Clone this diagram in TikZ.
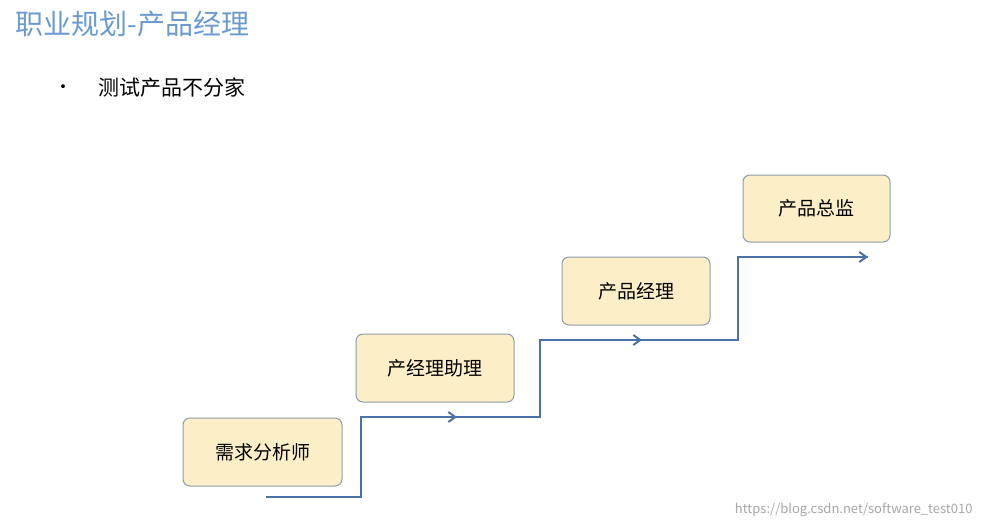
\documentclass[tikz,border=0pt]{standalone}
\usepackage{fontspec}
\setmainfont{Noto Sans CJK SC}
\usetikzlibrary{arrows.meta}
\definecolor{boxfill}{HTML}{FCEFC7}
\definecolor{boxline}{HTML}{8C9BAE}
\definecolor{stair}{HTML}{4A72A8}
\definecolor{titleblue}{HTML}{6A9AD0}
\tikzset{
 stage/.style={draw=boxline,fill=boxfill,rounded corners=7pt,line width=1pt,font=\fontsize{19}{22}\selectfont,inner sep=0pt},
 stair/.style={draw=stair,line width=2.6pt},
 tip/.style={-{Straight Barb[length=7pt,width=10pt,line width=2pt]}}
}
\begin{document}
\begin{tikzpicture}[x=1pt,y=-1pt]
\useasboundingbox (0,0) rectangle (985,527);
\node[anchor=west,text=titleblue,font=\fontsize{28}{32}\selectfont] (title) at (12,24) {职业规划-产品经理};
\node[anchor=center,font=\fontsize{18}{20}\selectfont] (bul) at (63,89) {•};
\node[anchor=west,font=\fontsize{21}{24}\selectfont] (sub) at (95,88) {测试产品不分家};
\node[stage,minimum width=159pt,minimum height=68pt] (s1) at (262.5,452) {需求分析师};
\node[stage,minimum width=158pt,minimum height=68pt] (s2) at (435,368) {产经理助理};
\node[stage,minimum width=148pt,minimum height=68pt] (s3) at (636,291) {产品经理};
\node[stage,minimum width=147pt,minimum height=67pt] (s4) at (816.5,208.5) {产品总监};
\coordinate (a0) at (266,497);
\coordinate (a1) at (361,497);
\coordinate (a2) at (361,417);
\coordinate (m1) at (457,417);
\coordinate (a3) at (540,417);
\coordinate (a4) at (540,340);
\coordinate (m2) at (642,340);
\coordinate (a5) at (738,340);
\coordinate (a6) at (738,257);
\coordinate (a7) at (868,257);
\draw[stair,line join=miter] (a0) -- (a1) -- (a2) -- (a3) -- (a4) -- (a5) -- (a6) -- (a7);
\draw[stair,tip] (a2) -- (m1);
\draw[stair,tip] (a4) -- (m2);
\draw[stair,tip] (a6) -- (a7);
\node[anchor=east,text=gray!70,font=\fontsize{13}{15}\selectfont] (wm) at (976,510) {https://blog.csdn.net/software\_test010};
\end{tikzpicture}
\end{document}
